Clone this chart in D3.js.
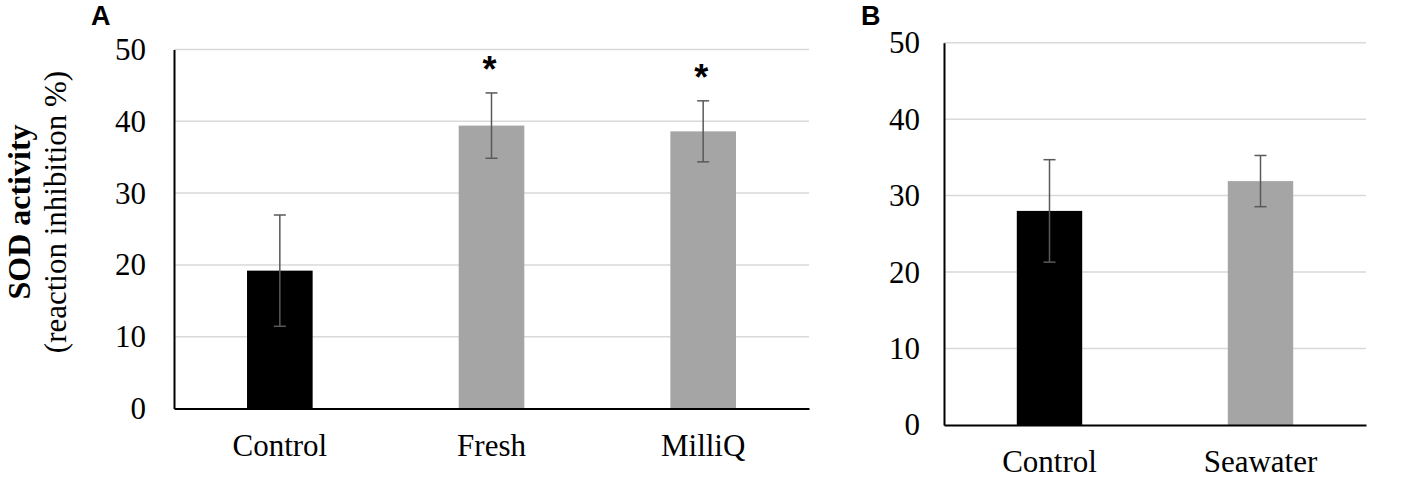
<!DOCTYPE html>
<html>
<head>
<meta charset="utf-8">
<script src="https://cdn.jsdelivr.net/npm/d3@7"></script>
<style>
  body { margin: 0; background: #fff; }
  svg { display: block; }
  .tick text { font-family: "Liberation Serif", "Times New Roman", serif; font-size: 31px; fill: #000; }
</style>
</head>
<body>
<svg id="chart" width="1417" height="479"></svg>
<script>
// panel A
const catsA = ['Control', 'Fresh', 'MilliQ'];
const meansA = [19.2, 39.4, 38.6];
const errsA = [7.75, 4.55, 4.25];
const starsA = ['', '*', '*'];

// panel B
const catsB = ['Control', 'Seawater'];
const meansB = [28.0, 31.9];
const errsB = [6.7, 3.35];
const starsB = ['', ''];

const yTicks = [0, 10, 20, 30, 40, 50];
const barColors = ['#000000', '#a5a5a5', '#a5a5a5'];

const svg = d3.select('#chart');

function drawPanel(opts) {
    const { cats, means, errs, stars, left, right, top, bottom, label, tickPad } = opts;
    const g = svg.append('g');

    const x = d3.scaleBand()
        .domain(cats)
        .range([left, right])
        .paddingInner(0.69)
        .paddingOuter(0.345);
    const y = d3.scaleLinear()
        .domain([0, 50])
        .range([bottom, top]);

    // gridlines
    g.selectAll('.grid')
        .data(yTicks.filter(d => d > 0))
        .enter()
        .append('line')
        .attr('x1', left)
        .attr('x2', right)
        .attr('y1', d => y(d))
        .attr('y2', d => y(d))
        .attr('stroke', '#d9d9d9')
        .attr('stroke-width', 1.5);

    // bars
    g.selectAll('.bar')
        .data(means)
        .enter()
        .append('rect')
        .attr('x', (d, i) => x(cats[i]))
        .attr('width', x.bandwidth())
        .attr('y', d => y(d))
        .attr('height', d => y(0) - y(d))
        .attr('fill', (d, i) => barColors[i]);

    // error bars
    const eb = g.selectAll('.err')
        .data(means)
        .enter()
        .append('g')
        .attr('stroke', '#595959')
        .attr('stroke-width', 1.5);
    const cx = i => x(cats[i]) + x.bandwidth() / 2;
    eb.append('line')
        .attr('x1', (d, i) => cx(i)).attr('x2', (d, i) => cx(i))
        .attr('y1', (d, i) => y(d + errs[i])).attr('y2', (d, i) => y(d - errs[i]));
    eb.append('line')
        .attr('x1', (d, i) => cx(i) - 6).attr('x2', (d, i) => cx(i) + 6)
        .attr('y1', (d, i) => y(d + errs[i])).attr('y2', (d, i) => y(d + errs[i]));
    eb.append('line')
        .attr('x1', (d, i) => cx(i) - 6).attr('x2', (d, i) => cx(i) + 6)
        .attr('y1', (d, i) => y(d - errs[i])).attr('y2', (d, i) => y(d - errs[i]));

    // significance stars
    g.selectAll('.star')
        .data(means)
        .enter()
        .append('text')
        .attr('x', (d, i) => cx(i) - 2)
        .attr('y', (d, i) => y(d + errs[i]) - 11)
        .attr('text-anchor', 'middle')
        .style('font-family', '"Liberation Sans", Arial, sans-serif')
        .style('font-weight', 'bold')
        .style('font-size', '36px')
        .text((d, i) => stars[i]);

    // axes
    const yAxis = d3.axisLeft(y).tickValues(yTicks).tickSize(0).tickPadding(tickPad);
    g.append('g')
        .attr('transform', `translate(${left},0)`)
        .call(yAxis)
        .call(a => a.select('.domain').attr('stroke', '#000').attr('stroke-width', 2));

    const xAxis = d3.axisBottom(x).tickSize(0).tickPadding(25);
    g.append('g')
        .attr('transform', `translate(0,${bottom})`)
        .call(xAxis)
        .call(a => a.select('.domain').attr('stroke', '#000').attr('stroke-width', 2));

    // panel letter
    svg.append('text')
        .attr('x', opts.labelX)
        .attr('y', 25)
        .style('font-family', '"Liberation Sans", Arial, sans-serif')
        .style('font-weight', 'bold')
        .style('font-size', '27px')
        .text(label);
}

drawPanel({ cats: catsA, means: meansA, errs: errsA, stars: starsA,
    left: 174, right: 809, top: 49.5, bottom: 408.5, label: 'A', labelX: 91, tickPad: 28 });
drawPanel({ cats: catsB, means: meansB, errs: errsB, stars: starsB,
    left: 944, right: 1366, top: 42.7, bottom: 425, label: 'B', labelX: 861, tickPad: 24 });

// y axis title (panel A)
const title = svg.append('g').attr('transform', 'translate(30,212) rotate(-90)');
title.append('text')
    .attr('text-anchor', 'middle')
    .style('font-family', '"Liberation Serif", "Times New Roman", serif')
    .style('font-weight', 'bold')
    .style('font-size', '32px')
    .text('SOD activity');
title.append('text')
    .attr('text-anchor', 'middle')
    .attr('y', 36)
    .style('font-family', '"Liberation Serif", "Times New Roman", serif')
    .style('font-size', '31px')
    .text('(reaction inhibition %)');
</script>
</body>
</html>
